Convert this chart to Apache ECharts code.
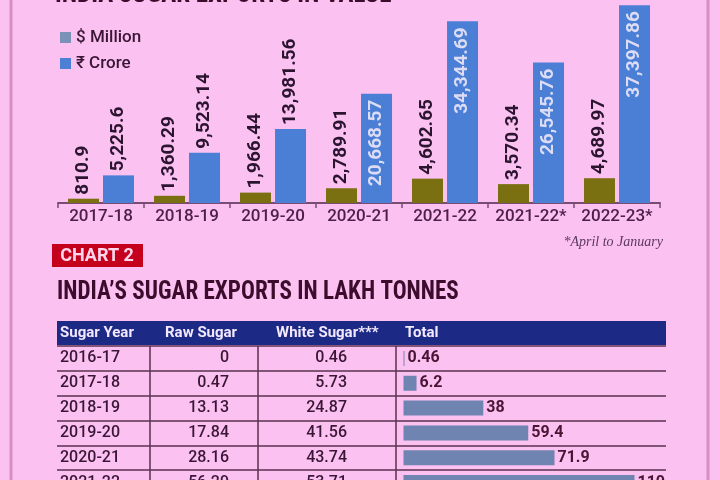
<!DOCTYPE html>
<html>
<head>
<meta charset="utf-8">
<script src="https://cdn.jsdelivr.net/npm/echarts@6/dist/echarts.min.js"></script>
<style>
html, body { margin: 0; padding: 0; background: #fbc1f0; }
#main { width: 720px; height: 480px; }
</style>
</head>
<body>
<div id="main"></div>
<script>
// chart 1: export value
const years = ['2017-18', '2018-19', '2019-20', '2020-21', '2021-22', '2021-22*', '2022-23*'];
const usdMillion = [810.9, 1360.29, 1966.44, 2789.91, 4602.65, 3570.34, 4689.97];
const inrCrore = [5225.6, 9523.14, 13981.56, 20668.57, 34344.69, 26545.76, 37397.86];

// chart 2: exports in lakh tonnes
const sugarYears = ['2016-17', '2017-18', '2018-19', '2019-20', '2020-21', '2021-22'];
const rawSugar = [0, 0.47, 13.13, 17.84, 28.16, 56.29];
const whiteSugar = [0.46, 5.73, 24.87, 41.56, 43.74, 53.71];
const totalSugar = [0.46, 6.2, 38, 59.4, 71.9, 110];
const tableHeads = ['Sugar Year', 'Raw Sugar', 'White Sugar***', 'Total'];

const NARROW = '"Liberation Sans Narrow", "Roboto Condensed", Roboto, sans-serif';
const SANS = 'Roboto, "DejaVu Sans", sans-serif';
const DARK = '#3a1636';

const chart = echarts.init(document.getElementById('main'));

function fmt(v) {
    return v.toLocaleString('en-US', { maximumFractionDigits: 2 });
}

const labelOut = {
    show: true, rotate: 90, position: 'top', align: 'left', verticalAlign: 'middle',
    distance: 4, color: '#2b1430', fontFamily: SANS, fontWeight: 'bold', fontSize: 19,
    formatter: p => fmt(p.value)
};
const labelIn = Object.assign({}, labelOut, {
    position: 'insideTop', align: 'right', distance: 6, color: '#dcdcf4'
});

// column x positions of the table (pixels)
const headX = [60, 165, 276, 405];
const rawX = 229, whiteX = 347;
const dividers = [150, 258, 396];

const option = {
    backgroundColor: '#fbc1f0',
    animation: false,
    legend: {
        orient: 'vertical', left: 55, top: 24, icon: 'rect',
        itemWidth: 11, itemHeight: 11, itemGap: 9,
        textStyle: { fontSize: 17, fontWeight: 500, color: DARK, fontFamily: SANS },
        data: [
            { name: '$ Million', itemStyle: { color: '#7b92b6' } },
            { name: '₹ Crore', itemStyle: { color: '#4d80d4' } }
        ]
    },
    grid: [
        { left: 58, right: 60, top: 2, bottom: 277, outerBoundsMode: 'none' },
        { left: 57, right: 54, top: 346, height: 149, outerBoundsMode: 'none' }
    ],
    xAxis: [
        {
            type: 'category', gridIndex: 0, data: years,
            axisLine: { lineStyle: { color: '#7a4c74', width: 2 } },
            axisTick: { show: true, length: 5, lineStyle: { color: '#7a4c74', width: 1.5 } },
            axisLabel: { interval: 0, color: '#4e2048', fontSize: 17, fontWeight: 500, fontFamily: SANS, margin: 5 }
        },
        { type: 'value', gridIndex: 1, min: -165, max: 125, show: false }
    ],
    yAxis: [
        { type: 'value', gridIndex: 0, min: 0, max: 38000, show: false },
        {
            type: 'category', gridIndex: 1, data: sugarYears, inverse: true,
            axisLine: { show: false }, axisTick: { show: false },
            splitLine: { show: true, lineStyle: { color: '#5a2f50', width: 1.5 } },
            axisLabel: { inside: true, margin: 3, color: DARK, fontSize: 16, fontWeight: 500, fontFamily: SANS }
        }
    ],
    series: [
        {
            name: '$ Million', type: 'bar', xAxisIndex: 0, yAxisIndex: 0,
            barWidth: 31, barGap: '13%',
            itemStyle: { color: '#7a7012' },
            label: labelOut,
            data: usdMillion
        },
        {
            name: '₹ Crore', type: 'bar', xAxisIndex: 0, yAxisIndex: 0,
            barWidth: 31, barGap: '13%',
            itemStyle: { color: '#4b7fd6' },
            data: inrCrore.map(v => ({ value: v, label: v > 15000 ? labelIn : labelOut }))
        },
        {
            name: 'Total', type: 'bar', xAxisIndex: 1, yAxisIndex: 1,
            barWidth: 15, itemStyle: { color: '#6f84b0' },
            label: {
                show: true, position: 'right', distance: 3, color: '#4a1535',
                fontFamily: SANS, fontWeight: 'bold', fontSize: 16
            },
            data: totalSugar
        },
        {
            type: 'custom', xAxisIndex: 1, yAxisIndex: 1,
            data: sugarYears.map((y, i) => [0, i]),
            encode: { x: 0, y: 1 },
            renderItem: (params, api) => {
                const i = params.dataIndex;
                const y = api.coord([0, api.value(1)])[1];
                const h = api.size([0, 1])[1];
                const font = '500 16px ' + SANS;
                const kids = [
                    { type: 'text', style: { x: rawX, y: y, text: String(rawSugar[i]), align: 'right', verticalAlign: 'middle', fill: DARK, font: font } },
                    { type: 'text', style: { x: whiteX, y: y, text: String(whiteSugar[i]), align: 'right', verticalAlign: 'middle', fill: DARK, font: font } }
                ];
                dividers.forEach(x => kids.push({
                    type: 'line', shape: { x1: x, y1: y - h / 2, x2: x, y2: y + h / 2 },
                    style: { stroke: '#5a2f50', lineWidth: 1.5 }
                }));
                return { type: 'group', children: kids };
            }
        }
    ],
    graphic: [
        { type: 'line', shape: { x1: 11, y1: 0, x2: 11, y2: 480 }, style: { stroke: '#d68fc6', lineWidth: 3 } },
        { type: 'line', shape: { x1: 708, y1: 0, x2: 708, y2: 480 }, style: { stroke: '#d68fc6', lineWidth: 3 } },
        { type: 'text', x: 55, y: 8, style: { x: 0, y: 0, text: 'INDIA SUGAR EXPORTS IN VALUE', verticalAlign: 'bottom', fill: '#3b0c2c', font: 'bold 25px ' + NARROW } },
        { type: 'text', style: { x: 663, y: 242, text: '*April to January', align: 'right', verticalAlign: 'middle', fill: '#5a3a5e', font: 'italic 14px "Liberation Serif", "DejaVu Serif", serif' } },
        { type: 'rect', shape: { x: 52, y: 244, width: 91, height: 23 }, style: { fill: '#c5001c' } },
        { type: 'text', style: { x: 97, y: 256, text: 'CHART 2', align: 'center', verticalAlign: 'middle', fill: '#ffd6ec', font: 'bold 18px ' + SANS } },
        { type: 'text', x: 57, y: 293, scaleX: 0.925, style: { x: 0, y: 0, text: 'INDIA\u2019S SUGAR EXPORTS IN LAKH TONNES', verticalAlign: 'middle', fill: '#3b0c2c', font: 'bold 25px ' + NARROW } },
        { type: 'rect', shape: { x: 57, y: 321, width: 609, height: 24 }, style: { fill: '#1c2a86' } }
    ].concat(tableHeads.map((t, i) => ({
        type: 'text',
        style: { x: headX[i], y: 333, text: t, verticalAlign: 'middle', fill: '#f4e8ff', font: 'bold 15px ' + SANS }
    })))
};

chart.setOption(option);
</script>
</body>
</html>
